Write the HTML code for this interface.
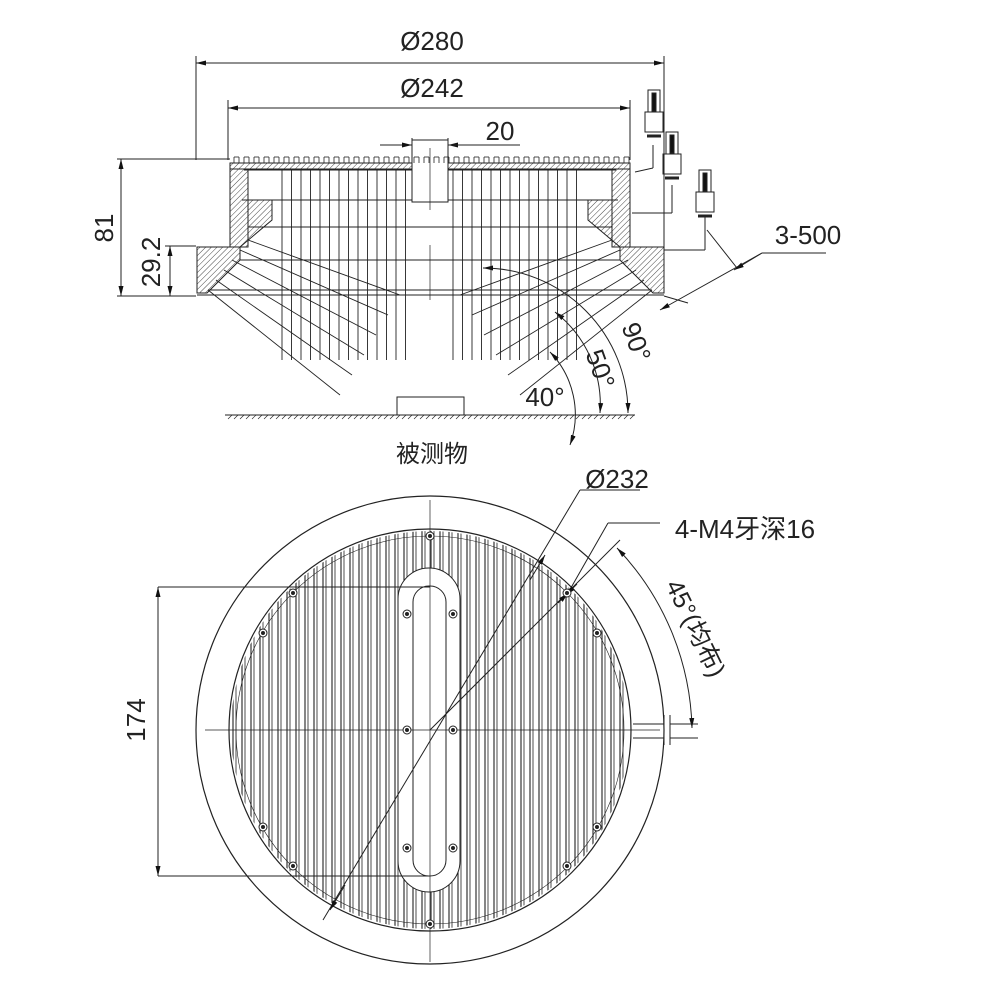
<!DOCTYPE html>
<html><head><meta charset="utf-8"><style>
html,body{margin:0;padding:0;background:#fff;}
svg{display:block;}
text{font-family:"Liberation Sans","Noto Sans CJK SC",sans-serif;fill:#222;}
</style></head><body>
<svg id="s" width="1006" height="990" viewBox="0 0 1006 990" xmlns="http://www.w3.org/2000/svg">
<defs>
<pattern id="h" width="4" height="4" patternUnits="userSpaceOnUse" patternTransform="rotate(45)">
<rect width="4" height="4" fill="#fff"/><line x1="0" y1="0" x2="0" y2="4" stroke="#333" stroke-width="0.9"/></pattern>
<clipPath id="cg"><circle cx="430" cy="730" r="199"/></clipPath>
<marker id="a" viewBox="0 0 10 6" refX="10" refY="3" markerWidth="10" markerHeight="6" orient="auto-start-reverse" markerUnits="userSpaceOnUse"><path d="M0,0.5 L10,3 L0,5.5z" fill="#111"/></marker>
</defs>
<g stroke="#222" stroke-width="1" fill="none" id="g">
<line x1="196" y1="56" x2="196" y2="160"/><line x1="664" y1="56" x2="664" y2="250"/>
<line x1="196" y1="63" x2="664" y2="63" marker-start="url(#a)" marker-end="url(#a)"/>
<line x1="228" y1="100" x2="228" y2="160"/><line x1="630" y1="100" x2="630" y2="160"/>
<line x1="228" y1="108" x2="630" y2="108" marker-start="url(#a)" marker-end="url(#a)"/>
<line x1="380" y1="145" x2="412" y2="145" marker-end="url(#a)"/><line x1="480" y1="145" x2="448" y2="145" marker-end="url(#a)"/>
<line x1="448" y1="145" x2="520" y2="145"/>
<line x1="412" y1="138" x2="412" y2="160"/><line x1="448" y1="138" x2="448" y2="160"/>
<line x1="117" y1="159" x2="230" y2="159"/><line x1="117" y1="296" x2="196" y2="296"/>
<line x1="121" y1="159" x2="121" y2="296" marker-start="url(#a)" marker-end="url(#a)"/>
<line x1="165" y1="246" x2="196" y2="246"/>
<line x1="170" y1="246" x2="170" y2="296" marker-start="url(#a)" marker-end="url(#a)"/>
<rect x="230" y="163" width="400" height="6" fill="url(#h)"/>
<rect x="230" y="169" width="18" height="78" fill="url(#h)"/>
<rect x="612" y="169" width="18" height="78" fill="url(#h)"/>
<polygon points="248,200 272,200 272,220 240,247 248,247" fill="url(#h)"/>
<polygon points="612,200 588,200 588,220 620,247 612,247" fill="url(#h)"/>
<polygon points="197,247 240,247 240,260 207,293 197,293" fill="url(#h)"/>
<polygon points="664,247 620,247 620,260 653,293 664,293" fill="url(#h)"/>
<line x1="197" y1="295" x2="664" y2="295"/>
<line x1="208" y1="290" x2="652" y2="290"/>
<line x1="244" y1="170" x2="412" y2="170"/><line x1="448" y1="170" x2="616" y2="170"/>
<line x1="242" y1="200" x2="412" y2="200"/><line x1="448" y1="200" x2="618" y2="200"/>
<line x1="240" y1="260" x2="620" y2="260"/>
<line x1="248" y1="227" x2="612" y2="227"/>
<rect x="412" y="140" width="36" height="62" fill="#fff"/>
<line x1="430" y1="148" x2="430" y2="210" stroke-width="0.7"/>
<line x1="430" y1="245" x2="430" y2="300" stroke-width="0.7"/>
<line x1="225" y1="415" x2="635" y2="415"/>
<rect x="397" y="397" width="67" height="18"/>
<path d="M483,268 A145,145 0 0 1 628,413" marker-start="url(#a)" marker-end="url(#a)"/>
<path d="M555,312 A117,117 0 0 1 600,413" marker-start="url(#a)" marker-end="url(#a)"/>
<path d="M550,352 A90,90 0 0 1 570,445" marker-start="url(#a)" marker-end="url(#a)"/>
<line x1="664" y1="296" x2="688" y2="303"/>
<line x1="707" y1="230" x2="737" y2="268"/>
<line x1="660" y1="310" x2="762" y2="253" marker-start="url(#a)"/>
<line x1="734" y1="270" x2="762" y2="253" marker-start="url(#a)"/>
<line x1="762" y1="253" x2="826" y2="253"/>
<circle cx="430" cy="730" r="234" stroke-width="1.2"/>
<circle cx="430" cy="730" r="201" stroke-width="1.2"/>
<circle cx="430" cy="730" r="194" stroke-width="0.6"/>
<g id="grill" clip-path="url(#cg)" stroke-width="1"></g>
<rect x="398" y="568" width="62" height="324" rx="31" fill="#fff"/>
<rect x="413" y="586" width="33" height="290" rx="16"/>
<line x1="430" y1="500" x2="430" y2="962" stroke-width="0.7"/>
<line x1="205" y1="730" x2="660" y2="730" stroke-width="0.7"/>
<line x1="158" y1="587" x2="430" y2="587"/><line x1="158" y1="876" x2="430" y2="876"/>
<line x1="158" y1="587" x2="158" y2="876" marker-start="url(#a)" marker-end="url(#a)"/>
<line x1="323" y1="920" x2="580" y2="490"/>
<line x1="330" y1="910" x2="345" y2="885" marker-start="url(#a)"/>
<line x1="545" y1="555" x2="530" y2="580" marker-start="url(#a)"/>
<line x1="580" y1="490" x2="640" y2="490"/>
<line x1="430" y1="730" x2="620" y2="540"/>
<line x1="568" y1="593" x2="608" y2="523"/><line x1="608" y1="523" x2="660" y2="523"/>
<line x1="577" y1="584" x2="566" y2="595" marker-end="url(#a)"/>
<line x1="558" y1="603" x2="568" y2="593" marker-end="url(#a)"/>
<path d="M617,548 A270,270 0 0 1 692,728" marker-start="url(#a)" marker-end="url(#a)"/>
<line x1="633" y1="724" x2="664" y2="724"/><line x1="633" y1="738" x2="664" y2="738"/>
<line x1="670" y1="724" x2="698" y2="724"/><line x1="670" y1="738" x2="698" y2="738"/>
<line x1="664" y1="715" x2="664" y2="745"/><line x1="670" y1="715" x2="670" y2="745"/>
</g>
<g font-size="26">
<text x="432" y="50" text-anchor="middle">Ø280</text>
<text x="432" y="97" text-anchor="middle">Ø242</text>
<text x="500" y="140" text-anchor="middle">20</text>
<text x="808" y="244" text-anchor="middle">3-500</text>
<text transform="translate(113,228) rotate(-90)" text-anchor="middle">81</text>
<text transform="translate(160,262) rotate(-90)" text-anchor="middle">29.2</text>
<text transform="translate(145,720) rotate(-90)" text-anchor="middle">174</text>
<text x="545" y="406" text-anchor="middle">40°</text>
<text transform="translate(592,372) rotate(70)" text-anchor="middle">50°</text>
<text transform="translate(628,345) rotate(70)" text-anchor="middle">90°</text>
<text x="432" y="462" text-anchor="middle" font-size="24">被测物</text>
<text x="617" y="488" text-anchor="middle">Ø232</text>
<text x="745" y="538" text-anchor="middle">4-M4牙深16</text>
<text transform="translate(688,632) rotate(64)" text-anchor="middle" font-size="25">45°(均布)</text>
</g>
</svg>
<script>
var NS="http://www.w3.org/2000/svg",g=document.getElementById("g"),gr=document.getElementById("grill");
function L(p,x1,y1,x2,y2,w){var l=document.createElementNS(NS,"line");l.setAttribute("x1",x1);l.setAttribute("y1",y1);l.setAttribute("x2",x2);l.setAttribute("y2",y2);if(w)l.setAttribute("stroke-width",w);p.appendChild(l);return l;}
for(var x=233;x<=628;x+=9){L(gr,x,520,x,940,1.1);L(gr,x+3,520,x+3,940,0.8);}
for(var x=234;x<=626;x+=10){L(g,x,157,x+5,157,0.8);L(g,x,157,x,163,0.8);L(g,x+5,157,x+5,163,0.8);}
for(var x=282;x<=408;x+=9.5){L(g,x,170,x,360,0.9);}
for(var x=453;x<=579;x+=9.5){L(g,x,170,x,360,0.9);}
for(var i=0;i<6;i++){L(g,208+i*8,290-i*10,340+i*12,395-i*20,0.9);L(g,652-i*8,290-i*10,520-i*12,395-i*20,0.9);}
for(var x=228;x<635;x+=6){L(g,x,419,x+4,415,0.6);}
var holes=[[430,536],[430,924],[293,593],[567,593],[263,633],[597,633],[263,827],[597,827],[293,866],[567,866],[407,614],[453,614],[407,730],[453,730],[407,848],[453,848]];
holes.forEach(function(h){var c=document.createElementNS(NS,"circle");c.setAttribute("cx",h[0]);c.setAttribute("cy",h[1]);c.setAttribute("r",4);c.setAttribute("fill","#fff");g.appendChild(c);var d=document.createElementNS(NS,"circle");d.setAttribute("cx",h[0]);d.setAttribute("cy",h[1]);d.setAttribute("r",1.5);d.setAttribute("fill","#222");g.appendChild(d);});
function conn(x,y){var r=document.createElementNS(NS,"rect");r.setAttribute("x",x);r.setAttribute("y",y);r.setAttribute("width",12);r.setAttribute("height",22);g.appendChild(r);
var r2=document.createElementNS(NS,"rect");r2.setAttribute("x",x-3);r2.setAttribute("y",y+22);r2.setAttribute("width",18);r2.setAttribute("height",20);g.appendChild(r2);
var r3=document.createElementNS(NS,"rect");r3.setAttribute("x",x+4);r3.setAttribute("y",y+3);r3.setAttribute("width",4);r3.setAttribute("height",18);r3.setAttribute("fill","#111");g.appendChild(r3);
L(g,x-1,y+46,x+13,y+46,3);}
conn(648,90);conn(666,132);conn(699,170);
L(g,653,145,653,168);L(g,635,172,653,168);
L(g,672,185,672,213);L(g,632,213,672,213);
L(g,705,215,705,250);L(g,664,250,705,250);
</script>
</body></html>
